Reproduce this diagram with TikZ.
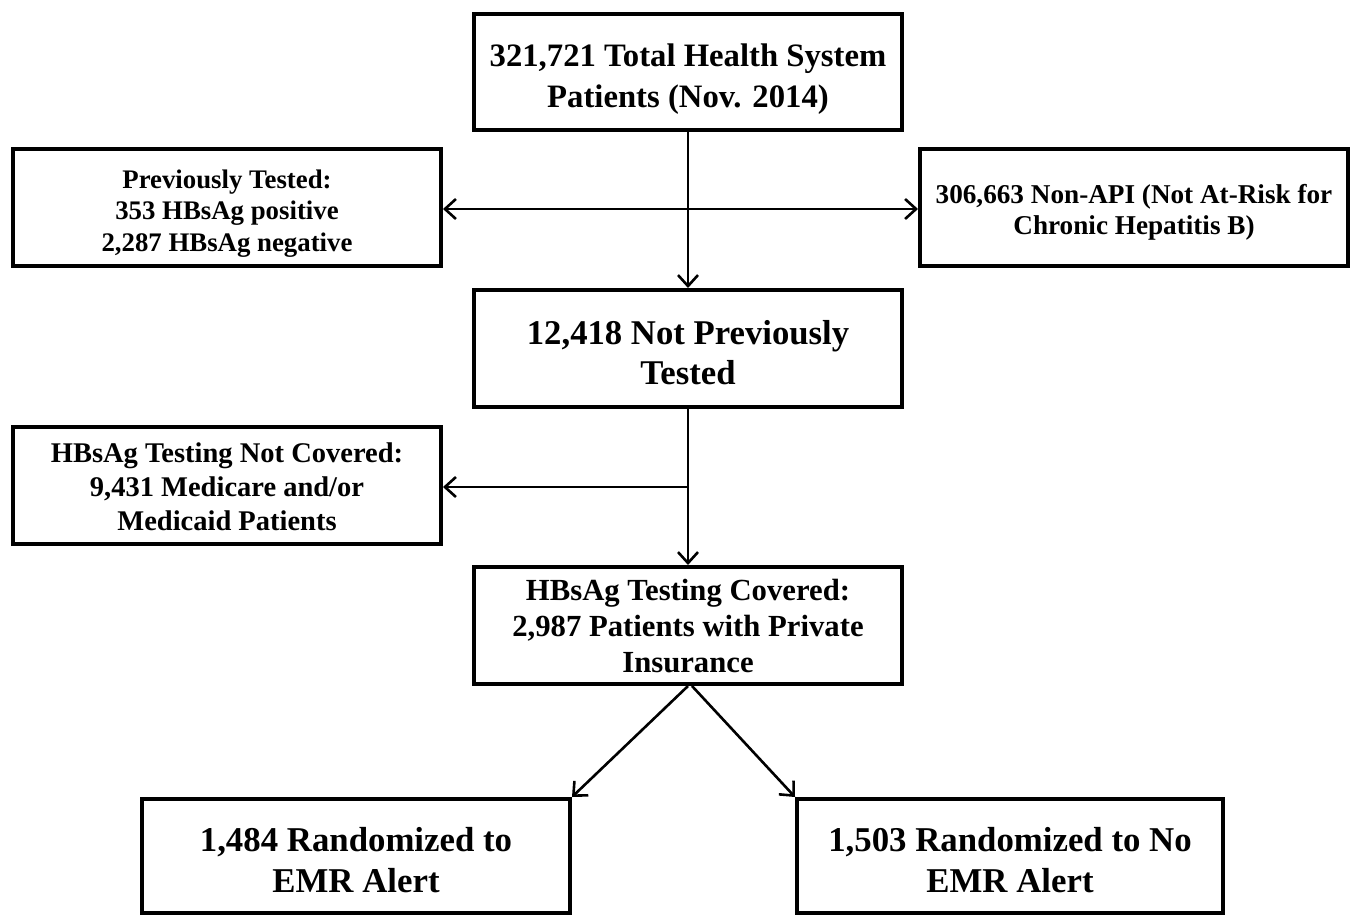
\documentclass[tikz,border=0pt]{standalone}
\usepackage{fontspec}
\setmainfont{Liberation Serif}
\usetikzlibrary{arrows.meta}
\newcommand{\boxtext}[2]{\raisebox{-#1}[\height][\depth]{\begin{tabular}{@{}c@{}}#2\end{tabular}}}
\tikzset{
  box/.style 2 args={draw, line width=4pt, rectangle, minimum width=428pt, minimum height=117pt, inner sep=0pt, font={\bfseries\fontsize{#1}{#2}\selectfont}},
  arr/.style={line width=2.6pt, -{Straight Barb[length=11pt,width=20pt,line width=2.6pt]}}
}
\begin{document}
\begin{tikzpicture}[x=1pt,y=-1pt]
\useasboundingbox (0,0) rectangle (1355,918);
\node[box={32.7}{41}, minimum height=116pt] (top) at (688,72) {\boxtext{7pt}{321,721 Total Health System\\Patients (Nov. 2014)}};
\node[box={26.8}{31.5}] (left1) at (227,207.5) {\boxtext{6pt}{Previously Tested:\\353 HBsAg positive\\2,287 HBsAg negative}};
\node[box={27.2}{31.5}] (right1) at (1134,207.5) {\boxtext{5pt}{306,663 Non-API (Not At-Risk for\\Chronic Hepatitis B)}};
\node[box={34.7}{40}] (mid2) at (688,348.5) {\boxtext{8pt}{12,418 Not Previously\\Tested}};
\node[box={28.5}{34}] (left2) at (227,485.5) {\boxtext{4pt}{HBsAg Testing Not Covered:\\9,431 Medicare and/or\\Medicaid Patients}};
\node[box={30.7}{36}] (mid3) at (688,625.5) {\boxtext{4pt}{HBsAg Testing Covered:\\2,987 Patients with Private\\Insurance}};
\node[box={34.8}{41}, minimum height=114pt] (bl) at (356,856) {\boxtext{8pt}{1,484 Randomized to\\EMR Alert}};
\node[box={34.8}{41}, minimum width=426pt, minimum height=114pt] (br) at (1010,856) {\boxtext{8pt}{1,503 Randomized to No\\EMR Alert}};
\coordinate (j1) at (688,209);
\coordinate (j2) at (688,487);
\draw[arr] (top.south) -- (mid2.north);
\draw[arr] (j1) -- (j1 -| left1.east);
\draw[arr] (j1) -- (j1 -| right1.west);
\draw[arr] (mid2.south) -- (mid3.north);
\draw[arr] (j2) -- (j2 -| left2.east);
\draw[arr] (mid3.south) -- (bl.north east);
\draw[arr] ([xshift=4pt]mid3.south) -- (br.north west);
\end{tikzpicture}
\end{document}
